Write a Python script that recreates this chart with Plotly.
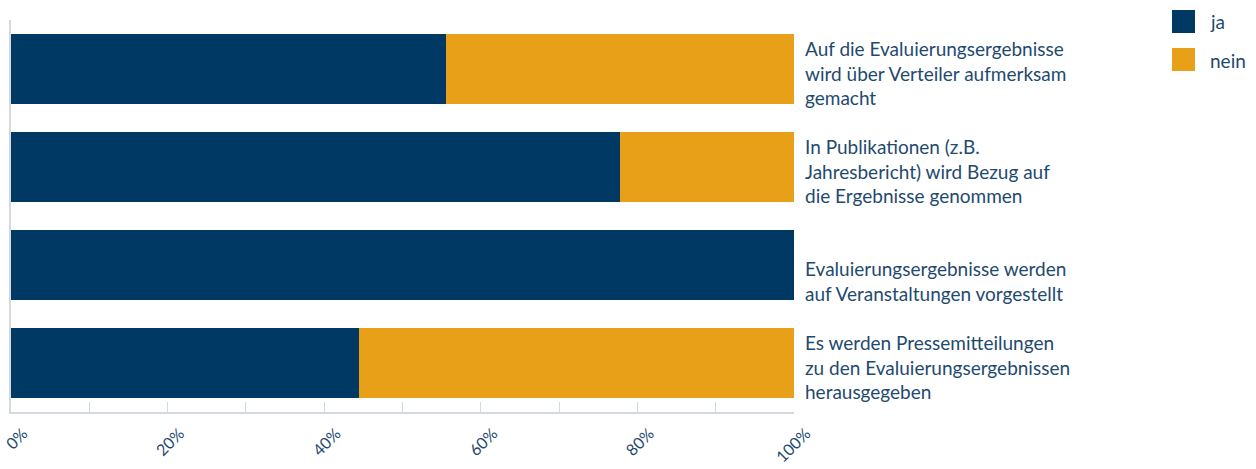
import plotly.graph_objects as go

categories = [
    "Auf die Evaluierungsergebnisse<br>wird über Verteiler aufmerksam<br>gemacht",
    "In Publikationen (z.B.<br>Jahresbericht) wird Bezug auf<br>die Ergebnisse genommen",
    "Evaluierungsergebnisse werden<br>auf Veranstaltungen vorgestellt",
    "Es werden Pressemitteilungen<br>zu den Evaluierungsergebnissen<br>herausgegeben",
]
cat_ids = ["c1", "c2", "c3", "c4"]
ja = [55.6, 77.8, 100.0, 44.4]
nein = [44.4, 22.2, 0.0, 55.6]
series_names = ["ja", "nein"]
colors = ["#003a64", "#e8a018"]
tick_vals = [0, 20, 40, 60, 80, 100]
tick_text = ["0%", "20%", "40%", "60%", "80%", "100%"]

TEXT = "#1f4a70"
FONT = "Lato"

fig = go.Figure()
for name, vals, col in zip(series_names, [ja, nein], colors):
    fig.add_trace(go.Bar(
        y=cat_ids, x=vals, name=name, orientation="h",
        marker=dict(color=col, line=dict(width=0)),
        showlegend=False, hoverinfo="x+name",
    ))

# category labels to the right of the bars (bottom aligned)
for cid, lab in zip(cat_ids, categories):
    fig.add_annotation(
        x=100, y=cid, xref="x", yref="y", text=lab, showarrow=False,
        xanchor="left", yanchor="bottom", align="left",
        xshift=9, yshift=-42,
        font=dict(family=FONT, size=19, color=TEXT),
    )

# figure geometry (page margin removed below)
W_FIG, H_FIG = 1256, 469
ML, MR, MT, MB = 11, 462, 20, 57
PW = W_FIG - ML - MR
PH = H_FIG - MT - MB


def px(xp):
    return (xp - ML) / PW


def py(yp):
    return 1 - (yp - MT) / PH


# manual legend
for i, (name, col) in enumerate(zip(series_names, colors)):
    y0 = 10 + i * 38
    fig.add_shape(type="rect", xref="paper", yref="paper",
                  x0=px(1172), x1=px(1195), y0=py(y0 + 23), y1=py(y0),
                  fillcolor=col, line=dict(width=0))
    fig.add_annotation(xref="paper", yref="paper", x=px(1208), y=py(y0 + 12),
                       text=name, showarrow=False, xanchor="left", yanchor="middle",
                       font=dict(family=FONT, size=19, color=TEXT))

fig.update_layout(
    width=W_FIG, height=H_FIG,
    margin=dict(l=ML, r=MR, t=MT, b=MB),
    plot_bgcolor="white", paper_bgcolor="white",
    barmode="stack", bargap=0.286,
    font=dict(family=FONT, color=TEXT),
    showlegend=False,
    xaxis=dict(
        range=[0, 100], tickvals=tick_vals, ticktext=tick_text,
        tickangle=-45, showgrid=False, zeroline=False,
        showline=True, linecolor="#d3d9df", linewidth=2,
        ticks="inside", ticklen=10, tickcolor="#d3d9df", tickwidth=1,
        minor=dict(tickvals=[10, 30, 50, 70, 90], ticks="inside", ticklen=10,
                   tickcolor="#d3d9df", tickwidth=1),
        tickfont=dict(family=FONT, size=16, color=TEXT),
        ticklabelshift=12, ticklabelstandoff=4, ticklabeloverflow="allow",
        automargin=False, fixedrange=True,
    ),
    yaxis=dict(
        autorange="reversed", showticklabels=False, showgrid=False,
        zeroline=False, showline=True, linecolor="#d3d9df", linewidth=2,
        ticks="", automargin=False, fixedrange=True,
    ),
)

fig.write_html(
    "out.html",
    config={"displayModeBar": False},
    post_script="document.body.style.margin='0';",
)
